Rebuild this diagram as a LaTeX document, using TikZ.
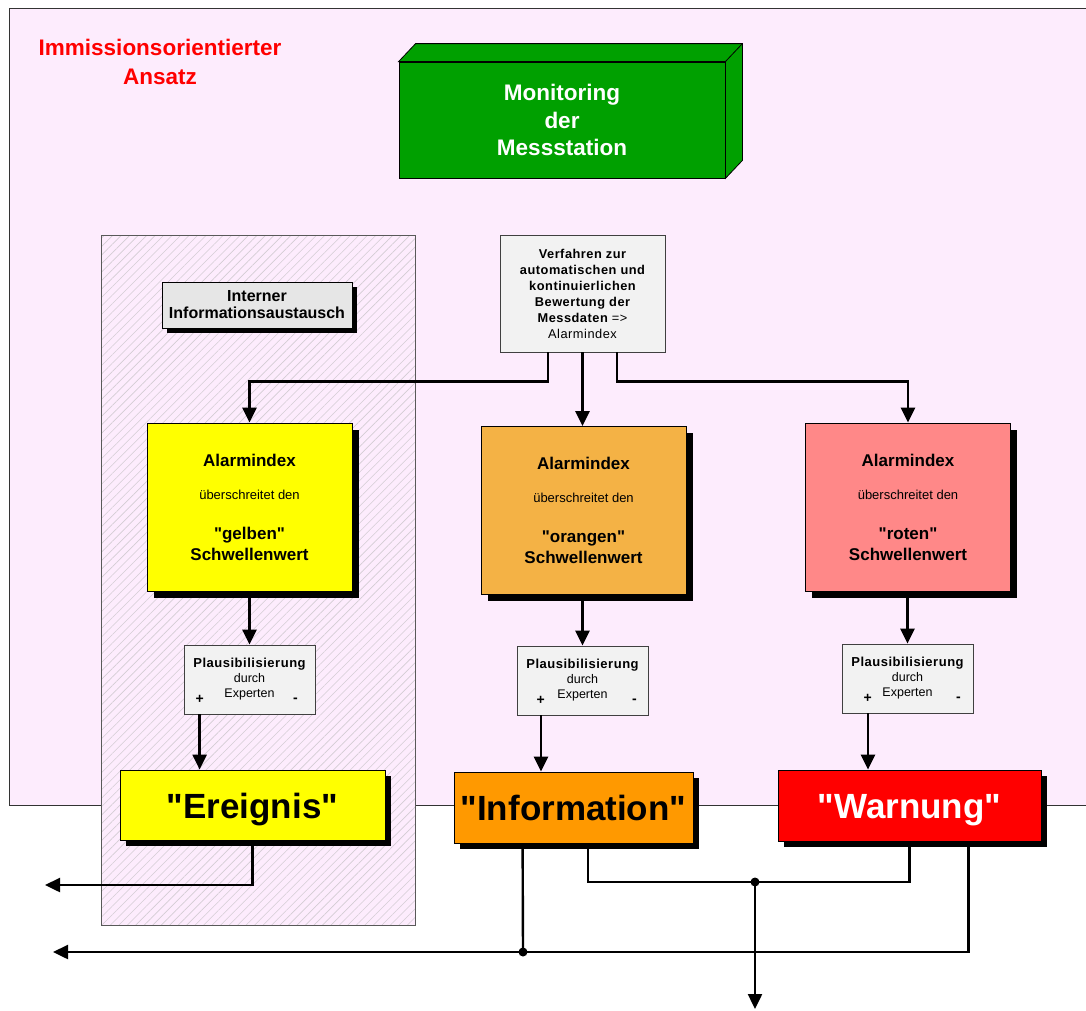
\documentclass[tikz,border=0pt]{standalone}
\usepackage{fontspec}
\setmainfont{Liberation Sans}[Ligatures=TeXOff]
\usetikzlibrary{arrows.meta,shadows,patterns.meta}

\definecolor{bgpink}{RGB}{253,236,253}
\definecolor{hatchgray}{RGB}{212,205,212}
\definecolor{mongreen}{RGB}{0,160,0}
\definecolor{lightgray}{RGB}{230,230,230}
\definecolor{plausgray}{RGB}{242,242,242}
\definecolor{alyellow}{RGB}{255,255,0}
\definecolor{alorange}{RGB}{244,178,69}
\definecolor{alrose}{RGB}{255,136,136}
\definecolor{resorange}{RGB}{255,153,0}
\definecolor{resred}{RGB}{255,0,0}

\newcommand{\alhead}[1]{{\bfseries\fontsize{17}{21}\selectfont #1}}
\newcommand{\spaced}{\addfontfeature{LetterSpace=4}}

\tikzset{
  hatchzone/.style={draw=black!65, line width=0.8pt, preaction={fill=bgpink},
    preaction={pattern color=hatchgray, pattern={Lines[angle=45,distance=6pt,line width=0.6pt]}}},
  heading/.style={text=red, align=center, font=\bfseries\fontsize{22.5}{29}\selectfont},
  monbox/.style={draw=black, line width=0.8pt, fill=mongreen, text=white, align=center,
    minimum width=326pt, minimum height=116pt, font=\bfseries\fontsize{22.5}{27.5}\selectfont},
  face/.style={draw=black, line width=0.8pt, fill=mongreen},
  shadowed/.style={drop shadow={shadow xshift=#1, shadow yshift=-#1, fill=black, opacity=1}},
  infobox/.style={draw=black, line width=0.8pt, fill=lightgray, align=center, shadowed=5pt,
    minimum width=190pt, minimum height=46pt, font=\bfseries\fontsize{16}{17}\selectfont},
  procbox/.style={draw=black!75, line width=0.8pt, fill=plausgray, align=center,
    minimum width=165pt, minimum height=117pt, font=\bfseries\spaced\fontsize{12.8}{16}\selectfont},
  alarm/.style={draw=black, line width=0.8pt, align=center, shadowed=6.5pt,
    minimum width=205pt, minimum height=168pt, font=\fontsize{13}{21}\selectfont},
  plaus/.style={draw=black!75, line width=0.8pt, fill=plausgray, align=center,
    minimum width=131pt, minimum height=69pt, font=\fontsize{12.5}{15}\selectfont},
  sign/.style={font=\bfseries\fontsize{14}{14}\selectfont, inner sep=0pt},
  result/.style={draw=black, line width=0.8pt, align=center, shadowed=6pt,
    minimum width=264pt, minimum height=71pt, text height=32pt, text depth=6pt,
    font=\bfseries\fontsize{35}{40}\selectfont},
  conn/.style={line width=2.4pt},
  arr/.style={conn, -{Triangle[length=15pt,width=14pt]}},
  junction/.style={fill=black}
}

\begin{document}
\begin{tikzpicture}[x=1pt,y=-1pt]
  \useasboundingbox (0,0) rectangle (1086,1010);
  \clip (0,0) rectangle (1086,1010);
  \fill[white] (0,0) rectangle (1086,1010);

  % approach area and the hatched internal zone
  \draw[black!80, line width=0.8pt, fill=bgpink] (9,8) rectangle (1110,805);
  \draw[hatchzone] (101,235) rectangle (415,925);

  \node[heading] (title) at (160,62) {Immissionsorientierter\\Ansatz};

  % monitoring block with its 3d faces
  \node[monbox] (mon) at (562,120) {Monitoring\\der\\Messstation};
  \draw[face] (mon.north west) -- ([shift={(17,-18)}]mon.north west)
    -- ([shift={(17,-18)}]mon.north east) -- ([shift={(17,-18)}]mon.south east)
    -- (mon.south east) -- (mon.north east) -- cycle;
  \draw[line width=0.8pt] (mon.north east) -- ([shift={(17,-18)}]mon.north east);

  \node[infobox] (intern) at (257,305) {Interner\\Informationsaustausch};

  \node[procbox] (verf) at (582.5,293.5) {Verfahren zur\\automatischen und\\kontinuierlichen\\Bewertung der\\Messdaten {\mdseries=>}\\{\mdseries Alarmindex}};

  % alarm thresholds
  \node[alarm, fill=alyellow] (alY) at (249.5,507) {\alhead{Alarmindex}\\[12pt]überschreitet den\\[19pt]\alhead{"gelben"}\\\alhead{Schwellenwert}};
  \node[alarm, fill=alorange] (alO) at (583.5,510.5) {\alhead{Alarmindex}\\[12pt]überschreitet den\\[19pt]\alhead{"orangen"}\\\alhead{Schwellenwert}};
  \node[alarm, fill=alrose] (alR) at (908,507) {\alhead{Alarmindex}\\[12pt]überschreitet den\\[19pt]\alhead{"roten"}\\\alhead{Schwellenwert}};

  \draw[arr] ([xshift=-34.5pt]verf.south) -- ++(0,29) -| (alY.north);
  \draw[arr] (verf.south) -- (verf.south |- alO.north);
  \draw[arr] ([xshift=34.5pt]verf.south) -- ++(0,29) -| (alR.north);

  % expert check
  \node[plaus] (plY) at (249.5,679.5) {{\bfseries\spaced\fontsize{13}{15}\selectfont Plausibilisierung}\\durch\\Experten};
  \node[plaus] (plO) at (582.5,680.5) {{\bfseries\spaced\fontsize{13}{15}\selectfont Plausibilisierung}\\durch\\Experten};
  \node[plaus] (plR) at (907.5,678.5) {{\bfseries\spaced\fontsize{13}{15}\selectfont Plausibilisierung}\\durch\\Experten};
  \node[sign] (plusY) at ([shift={(16,-15)}]plY.south west) {+};
  \node[sign] (minusY) at ([shift={(-20,-14)}]plY.south east) {-};
  \node[sign] (plusO) at ([shift={(24,-15)}]plO.south west) {+};
  \node[sign] (minusO) at ([shift={(-14,-14)}]plO.south east) {-};
  \node[sign] (plusR) at ([shift={(26,-15)}]plR.south west) {+};
  \node[sign] (minusR) at ([shift={(-15,-14)}]plR.south east) {-};

  \draw[arr] (alY.south) -- (plY.north);
  \draw[arr] (alO.south -| plO.north) -- (plO.north);
  \draw[arr] (alR.south -| plR.north) -- (plR.north);

  % results
  \node[result, fill=alyellow, minimum width=265pt, minimum height=70pt] (ereig) at (252.5,805) {"Ereignis"};
  \node[result, fill=resorange, minimum width=239pt] (info) at (573.5,807.5) {"Information"};
  \node[result, fill=resred, text=white, minimum width=263pt] (warn) at (909.5,805.5) {"Warnung"};

  \draw[arr] ([xshift=16pt]plY.south west) -- ([xshift=16pt]plY.south west |- ereig.north);
  \draw[arr] ([xshift=-41.5pt]plO.south) -- ([xshift=-41.5pt]plO.south |- info.north);
  \draw[arr] ([xshift=-39.5pt]plR.south) -- ([xshift=-39.5pt]plR.south |- warn.north);

  % outgoing lines
  \coordinate (outE) at (45,885);
  \coordinate (outL) at (53,952);
  \coordinate (outD) at (755,1009);
  \coordinate (jnTop) at (755,882);
  \coordinate (jnLow) at (523,952);

  \draw[arr] (ereig.south) |- (outE);
  \draw[conn] ([xshift=14.5pt]info.south) |- (jnTop) -| (warn.south);
  \draw[arr] (jnTop) -- (outD);
  \draw[arr] ([xshift=-73pt]warn.south east) |- (outL);
  \draw[conn] ([xshift=69pt]info.south west) -- (jnLow);
  \fill[junction] (jnTop) circle (4.5pt);
  \fill[junction] (jnLow) circle (4.5pt);
\end{tikzpicture}
\end{document}
